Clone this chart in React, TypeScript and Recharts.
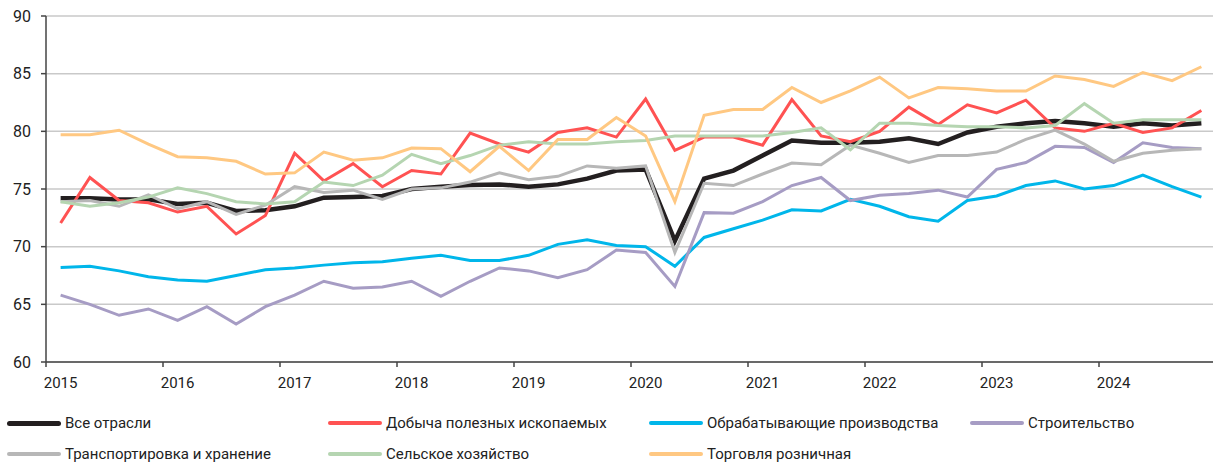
import { LineChart, Line, XAxis, YAxis, CartesianGrid } from 'recharts';

// quarterly, 2015 Q1 .. 2024 Q4
const years = [2015, 2016, 2017, 2018, 2019, 2020, 2021, 2022, 2023, 2024];
const quarters = years.flatMap((y) => [1, 2, 3, 4].map((q) => `${y} Q${q}`));

const vseOtrasli = [
  74.2, 74.2, 74.1, 74.1, 73.7, 73.8, 73.1, 73.15, 73.5, 74.25, 74.3, 74.4,
  75.0, 75.2, 75.35, 75.4, 75.2, 75.4, 75.9, 76.6, 76.7, 70.5, 75.9, 76.6,
  77.9, 79.2, 79.0, 79.0, 79.1, 79.4, 78.9, 79.9, 80.4, 80.7, 80.9, 80.7,
  80.4, 80.7, 80.5, 80.7,
];
const dobycha = [
  72.05, 76.0, 74.0, 73.8, 73.0, 73.5, 71.1, 72.7, 78.1, 75.7, 77.2, 75.2,
  76.6, 76.3, 79.85, 78.9, 78.2, 79.9, 80.3, 79.5, 82.8, 78.35, 79.5, 79.5,
  78.8, 82.75, 79.6, 79.1, 80.0, 82.1, 80.6, 82.3, 81.6, 82.7, 80.3, 80.0,
  80.7, 79.9, 80.3, 81.8,
];
const obrabatyv = [
  68.2, 68.3, 67.9, 67.4, 67.1, 67.0, 67.5, 68.0, 68.15, 68.4, 68.6, 68.7,
  69.0, 69.25, 68.8, 68.8, 69.25, 70.2, 70.6, 70.1, 70.0, 68.3, 70.8, 71.55,
  72.3, 73.2, 73.1, 74.1, 73.5, 72.6, 72.2, 74.0, 74.4, 75.3, 75.7, 75.0,
  75.3, 76.2, 75.2, 74.3,
];
const stroitelstvo = [
  65.8, 65.0, 64.05, 64.6, 63.6, 64.8, 63.3, 64.8, 65.8, 67.0, 66.4, 66.5,
  67.0, 65.7, 67.0, 68.15, 67.9, 67.3, 68.0, 69.7, 69.5, 66.55, 72.95, 72.9,
  73.9, 75.3, 76.0, 74.0, 74.45, 74.6, 74.9, 74.3, 76.7, 77.3, 78.7, 78.6,
  77.3, 79.0, 78.6, 78.5,
];
const transport = [
  73.9, 74.0, 73.5, 74.5, 73.3, 73.9, 72.8, 73.6, 75.2, 74.7, 74.9, 74.1,
  75.0, 75.1, 75.6, 76.4, 75.8, 76.1, 77.0, 76.8, 77.0, 69.5, 75.5, 75.3,
  76.3, 77.25, 77.1, 78.8, 78.1, 77.3, 77.9, 77.9, 78.2, 79.3, 80.1, 78.9,
  77.4, 78.1, 78.35, 78.5,
];
const selskoe = [
  73.9, 73.5, 73.8, 74.3, 75.1, 74.6, 73.9, 73.7, 73.9, 75.6, 75.3, 76.2,
  78.0, 77.2, 77.9, 78.8, 79.1, 78.9, 78.9, 79.1, 79.2, 79.6, 79.6, 79.6,
  79.6, 79.9, 80.3, 78.4, 80.7, 80.7, 80.5, 80.4, 80.4, 80.3, 80.5, 82.4,
  80.7, 81.0, 81.0, 81.0,
];
const torgovlya = [
  79.7, 79.7, 80.1, 78.9, 77.8, 77.7, 77.4, 76.3, 76.4, 78.2, 77.5, 77.7,
  78.55, 78.5, 76.5, 78.7, 76.6, 79.3, 79.3, 81.2, 79.6, 73.9, 81.4, 81.9,
  81.9, 83.8, 82.5, 83.5, 84.7, 82.9, 83.8, 83.7, 83.5, 83.5, 84.8, 84.5,
  83.9, 85.1, 84.4, 85.6,
];

const yTicks = [60, 65, 70, 75, 80, 85, 90];

const series = [
  { key: 'all', name: 'Все отрасли', values: vseOtrasli, color: '#231f20', width: 4.5 },
  { key: 'mining', name: 'Добыча полезных ископаемых', values: dobycha, color: '#ff5252', width: 3 },
  { key: 'manuf', name: 'Обрабатывающие производства', values: obrabatyv, color: '#00b6ea', width: 3 },
  { key: 'constr', name: 'Строительство', values: stroitelstvo, color: '#a69cc4', width: 3 },
  { key: 'transp', name: 'Транспортировка и хранение', values: transport, color: '#b7b7b7', width: 3 },
  { key: 'agri', name: 'Сельское хозяйство', values: selskoe, color: '#b5d5b1', width: 3 },
  { key: 'retail', name: 'Торговля розничная', values: torgovlya, color: '#ffc882', width: 3 },
];

const data = quarters.map((q, i) => {
  const row: Record<string, number | string> = { quarter: q, x: i + 0.5 };
  series.forEach((s) => {
    row[s.key] = s.values[i];
  });
  return row;
});

const CHART_W = 1220;
const Y_W = 46;
const RIGHT = 4;
const PLOT_W = CHART_W - Y_W - RIGHT;
const HALF_BAND = PLOT_W / quarters.length / 2;
const FONT = 'Roboto, "Liberation Sans", sans-serif';

const YearTick = (props: any) => {
  const { x, y, payload } = props;
  const year = years[Math.round(payload.value / 4)];
  return (
    <text
      x={x + HALF_BAND}
      y={y}
      dy="0.71em"
      textAnchor="middle"
      fill="#222"
      fontSize={15}
      fontFamily={FONT}
    >
      {year}
    </text>
  );
};

const legendPos = [
  { left: 7, top: 412 },
  { left: 328, top: 412 },
  { left: 649, top: 412 },
  { left: 970, top: 412 },
  { left: 7, top: 443 },
  { left: 328, top: 443 },
  { left: 649, top: 443 },
];

export default function App() {
  return (
    <div style={{ position: 'relative', width: 1213, height: 471, overflow: 'hidden', background: '#fff' }}>
      <style>{`body{margin:0}`}</style>
      <LineChart
        width={CHART_W}
        height={400}
        data={data}
        margin={{ top: 16, right: RIGHT, left: 0, bottom: 0 }}
      >
        <CartesianGrid vertical={false} stroke="#c9c9c9" strokeWidth={1.5} />
        <XAxis
          dataKey="x"
          type="number"
          domain={[0, 40]}
          ticks={[0, 4, 8, 12, 16, 20, 24, 28, 32, 36]}
          height={38}
          tickSize={5}
          tickMargin={10}
          stroke="#444"
          strokeWidth={1.5}
          tick={<YearTick />}
        />
        <YAxis
          domain={[60, 90]}
          ticks={yTicks}
          width={Y_W}
          tickSize={5}
          tickMargin={10}
          stroke="#444"
          strokeWidth={1.5}
          tick={{ fill: '#222', fontSize: 16, fontFamily: FONT }}
        />
        {series.map((s) => (
          <Line
            key={s.key}
            type="linear"
            dataKey={s.key}
            name={s.name}
            stroke={s.color}
            strokeWidth={s.width}
            dot={false}
            activeDot={false}
            isAnimationActive={false}
          />
        ))}
      </LineChart>
      {series.map((s, i) => (
        <div
          key={s.key}
          style={{
            position: 'absolute',
            left: legendPos[i].left,
            top: legendPos[i].top,
            height: 22,
            display: 'flex',
            alignItems: 'center',
            fontFamily: FONT,
            fontSize: 15,
            color: '#222',
            whiteSpace: 'nowrap',
          }}
        >
          <span
            style={{
              display: 'inline-block',
              width: 54,
              height: i === 0 ? 5 : 4,
              borderRadius: 3,
              background: s.color,
              marginRight: 4,
            }}
          />
          {s.name}
        </div>
      ))}
    </div>
  );
}
